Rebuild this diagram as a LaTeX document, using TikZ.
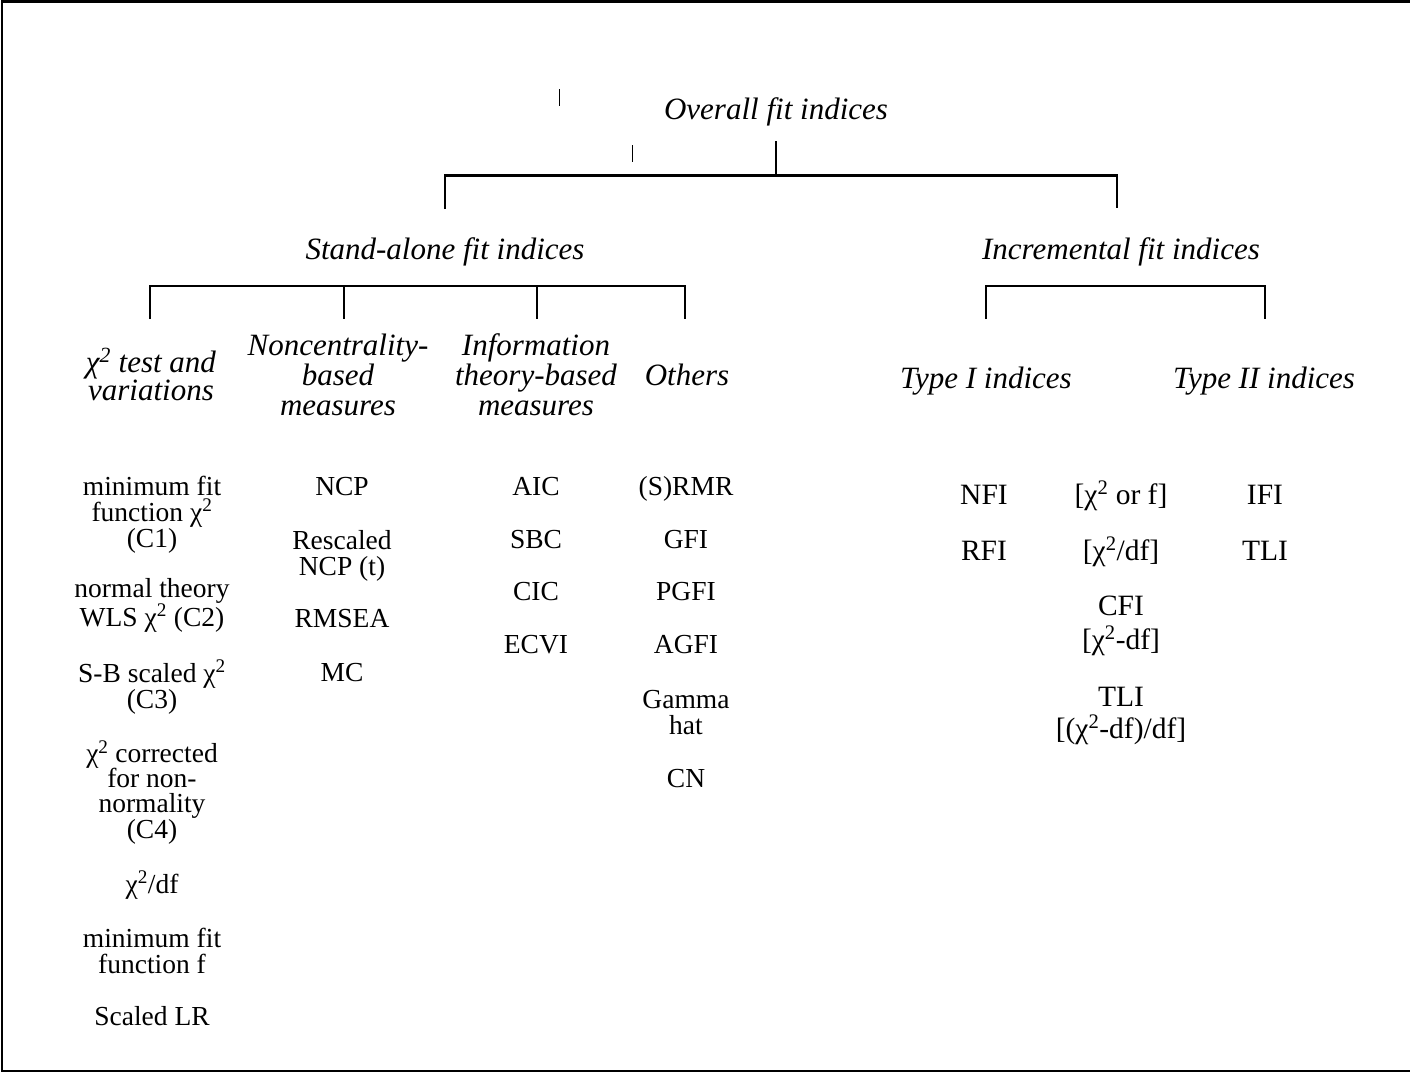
\documentclass[tikz,border=0pt]{standalone}
\usepackage{fontspec}
\setmainfont{Liberation Serif}
\begin{document}
\begin{tikzpicture}[x=1pt,y=-1pt,
  conn/.style={line width=2.6pt},
  thintick/.style={line width=1pt},
  frame/.style={line width=2.6pt},
  head/.style={font=\fontsize{31}{30}\selectfont\itshape, align=center, inner sep=0pt, anchor=base},
  item/.style={font=\fontsize{27.5}{26}\selectfont, align=center, inner sep=0pt, anchor=base},
  ritem/.style={font=\fontsize{29.5}{33}\selectfont, align=center, inner sep=0pt, anchor=base}]
\useasboundingbox (0,0) rectangle (1410,1073);
% frame (right side not shown)
\coordinate (f1) at (1410,1.5);
\coordinate (f2) at (2,1.5);
\coordinate (f3) at (2,1071);
\coordinate (f4) at (1410,1071);
\draw[frame] (f1) -- (f2) -- (f3) -- (f4);

% headings (multi-line nodes are placed by their last baseline)
\node[head] (overall) at (776,119) {Overall fit indices};
\node[head] (stand) at (445,259) {Stand-alone fit indices};
\node[head] (incr) at (1121,259) {Incremental fit indices};
\node[head, font=\fontsize{31}{28}\selectfont\itshape] (chi) at (151,400) {χ\textsuperscript{2} test and\\variations};
\node[head] (ncb) at (338,415) {Noncentrality-\\based\\measures};
\node[head] (itb) at (536,415) {Information\\theory-based\\measures};
\node[head] (oth) at (687,385) {Others};
\node[head] (t1) at (986,388) {Type I indices};
\node[head] (t2) at (1264,388) {Type II indices};

% column 1
\node[item] (c1a) at (152,547) {minimum fit\\function χ\textsuperscript{2}\\(C1)};
\node[item] (c1b) at (152,626) {normal theory\\WLS χ\textsuperscript{2} (C2)};
\node[item] (c1c) at (152,708) {S-B scaled χ\textsuperscript{2}\\(C3)};
\node[item, font=\fontsize{27.5}{25.3}\selectfont] (c1d) at (152,838) {χ\textsuperscript{2} corrected\\for non-\\normality\\(C4)};
\node[item] (c1e) at (152,893) {χ\textsuperscript{2}/df};
\node[item] (c1f) at (152,973) {minimum fit\\function f};
\node[item] (c1g) at (152,1025) {Scaled LR};

% column 2
\node[item] (c2a) at (342,495) {NCP};
\node[item] (c2b) at (342,575) {Rescaled\\NCP (t)};
\node[item] (c2c) at (342,627) {RMSEA};
\node[item] (c2d) at (342,681) {MC};

% column 3
\node[item] (c3a) at (536,495) {AIC};
\node[item] (c3b) at (536,548) {SBC};
\node[item] (c3c) at (536,600) {CIC};
\node[item] (c3d) at (536,653) {ECVI};

% column 4
\node[item] (c4a) at (686,495) {(S)RMR};
\node[item] (c4b) at (686,548) {GFI};
\node[item] (c4c) at (686,600) {PGFI};
\node[item] (c4d) at (686,653) {AGFI};
\node[item] (c4e) at (686,734) {Gamma\\hat};
\node[item] (c4f) at (686,787) {CN};

% incremental side
\node[ritem] (r1a) at (984,504) {NFI};
\node[ritem] (r1b) at (984,560) {RFI};
\node[ritem] (r2a) at (1121,504) {{[}χ\textsuperscript{2} or f{]}};
\node[ritem] (r2b) at (1121,560) {{[}χ\textsuperscript{2}/df{]}};
\node[ritem, font=\fontsize{29.5}{34}\selectfont] (r2c) at (1121,649) {CFI\\{[}χ\textsuperscript{2}-df{]}};
\node[ritem, font=\fontsize{29.5}{32}\selectfont] (r2d) at (1121,738) {TLI\\{[}(χ\textsuperscript{2}-df)/df{]}};
\node[ritem] (r3a) at (1265,504) {IFI};
\node[ritem] (r3b) at (1265,560) {TLI};

% stray ticks
\coordinate (s1a) at (559,89);
\coordinate (s1b) at (559,106);
\coordinate (s2a) at (632,145);
\coordinate (s2b) at (632,162);
\draw[thintick] (s1a) -- (s1b);
\draw[thintick] (s2a) -- (s2b);

% top bracket
\coordinate (o1) at (776,141);
\coordinate (o2) at (776,175.5);
\coordinate (oL) at (445,175.5);
\coordinate (oR) at (1117,175.5);
\coordinate (oLd) at (445,209);
\coordinate (oRd) at (1117,208);
\draw[conn] (o1) -- (o2);
\draw[conn] (oLd) -- (oL) -- (oR) -- (oRd);

% stand-alone bracket
\coordinate (a1) at (150,286);
\coordinate (a2) at (344,286);
\coordinate (a3) at (537,286);
\coordinate (a4) at (685,286);
\coordinate (a1d) at (150,319);
\coordinate (a2d) at (344,319);
\coordinate (a3d) at (537,319);
\coordinate (a4d) at (685,319);
\draw[conn] (a1d) -- (a1) -- (a4) -- (a4d);
\draw[conn] (a2) -- (a2d);
\draw[conn] (a3) -- (a3d);

% incremental bracket
\coordinate (b1) at (986,286);
\coordinate (b2) at (1265,286);
\coordinate (b1d) at (986,319);
\coordinate (b2d) at (1265,319);
\draw[conn] (b1d) -- (b1) -- (b2) -- (b2d);
\end{tikzpicture}
\end{document}
